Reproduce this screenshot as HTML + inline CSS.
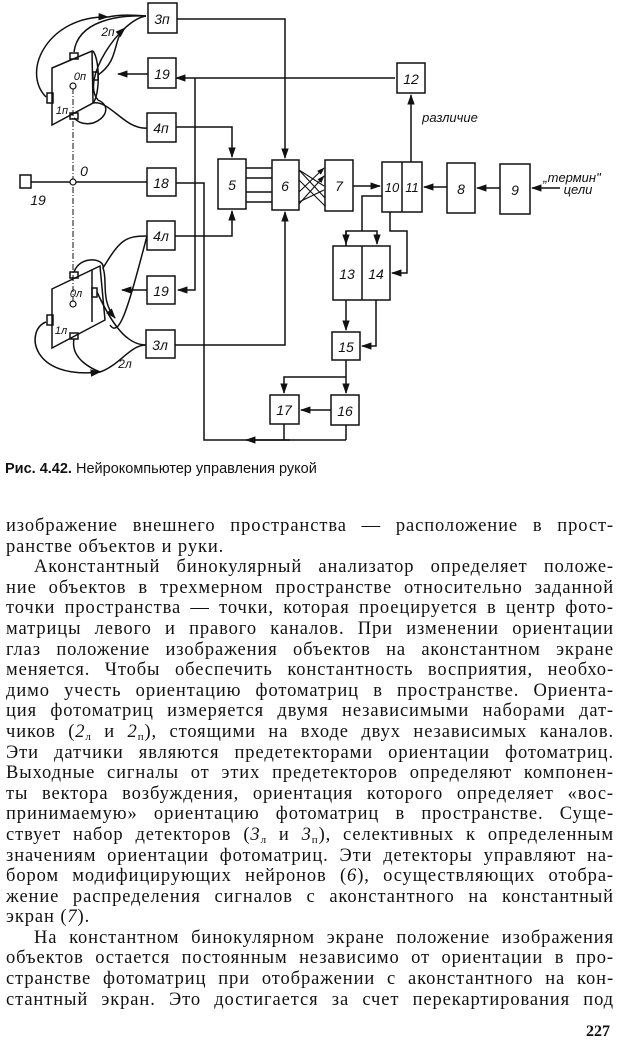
<!DOCTYPE html>
<html><head><meta charset="utf-8"><style>
html,body{margin:0;padding:0;background:#fff;}
body{width:620px;height:1047px;position:relative;overflow:hidden;font-family:"Liberation Serif","DejaVu Serif",serif;color:#111;}
svg{position:absolute;left:0;top:0;}
.t{position:absolute;left:6px;width:608px;font-size:18.5px;line-height:20.6px;letter-spacing:0.9px;}
.t div{text-align:justify;text-align-last:justify;white-space:nowrap;height:20.6px;overflow:visible;}
.t div.l{text-align-last:left;}
.t div.i{padding-left:28px;}
.t sub{font-size:11px;vertical-align:-3px;line-height:0;}
.cap{position:absolute;left:5px;top:461px;font-size:14.5px;font-family:"Liberation Sans",sans-serif;}
.pn{position:absolute;left:586px;top:1023px;font-size:16px;font-weight:bold;}
</style></head><body>
<svg width="620" height="460" viewBox="0 0 620 460">
<defs><marker id="a" viewBox="0 0 10 10" refX="9" refY="5" markerWidth="7" markerHeight="7" orient="auto-start-reverse"><path d="M0,1.5 L10,5 L0,8.5 z" fill="#111"/></marker></defs>
<g fill="none" stroke="#111" stroke-width="1.5">
<rect x="148" y="3" width="29" height="30"/>
<rect x="148" y="58" width="28" height="30"/>
<rect x="147" y="113" width="29" height="29"/>
<rect x="147" y="168" width="29" height="28"/>
<rect x="147" y="221" width="28" height="29"/>
<rect x="147" y="276" width="28" height="28"/>
<rect x="146" y="330" width="29" height="28"/>
<rect x="218" y="159" width="28" height="50"/>
<rect x="272" y="160" width="27" height="50"/>
<rect x="325" y="160" width="28" height="51"/>
<rect x="382" y="162" width="40" height="50"/><line x1="402" y1="162" x2="402" y2="212"/>
<rect x="447" y="163" width="28" height="50"/>
<rect x="500" y="164" width="30" height="50"/>
<rect x="397" y="63" width="28" height="30"/>
<rect x="333" y="246" width="57" height="54"/><line x1="362" y1="246" x2="362" y2="300"/>
<rect x="332" y="332" width="28" height="28"/>
<rect x="331" y="395" width="28" height="30"/>
<rect x="270" y="395" width="29" height="29"/>
<rect x="20" y="175" width="11" height="13"/>
<polyline points="177,19 285,19 285,158" marker-end="url(#a)"/>
<polyline points="395,78 176,78" marker-end="url(#a)" />
<line x1="148" y1="74" x2="118" y2="74" marker-end="url(#a)"/>
<polyline points="195,78 195,290 178,290" marker-end="url(#a)"/>
<line x1="147" y1="290" x2="122" y2="290" marker-end="url(#a)"/>
<polyline points="176,127 232,127 232,157" marker-end="url(#a)"/>
<polyline points="175,236 232,236 232,211" marker-end="url(#a)"/>
<polyline points="175,345 285,345 285,212" marker-end="url(#a)"/>
<polyline points="176,183 204,183 204,440 346,440"/>
<line x1="290" y1="440" x2="246" y2="440" marker-end="url(#a)"/>
<line x1="31" y1="182" x2="147" y2="182"/>
<line x1="246" y1="168" x2="272" y2="168"/><line x1="246" y1="178" x2="272" y2="178"/>
<line x1="246" y1="192" x2="272" y2="192"/><line x1="246" y1="202" x2="272" y2="202"/>
<g stroke-width="1.1">
<line x1="299" y1="170" x2="325" y2="198" /><line x1="299" y1="180" x2="325" y2="206" />
<line x1="299" y1="192" x2="324" y2="168" marker-end="url(#a)"/><line x1="299" y1="204" x2="324" y2="176" marker-end="url(#a)"/>
<line x1="299" y1="170" x2="324" y2="186"/><line x1="299" y1="202" x2="324" y2="190"/>
</g>
<line x1="353" y1="186" x2="380" y2="186" marker-end="url(#a)"/>
<line x1="447" y1="187" x2="424" y2="187" marker-end="url(#a)"/>
<line x1="500" y1="188" x2="477" y2="188" marker-end="url(#a)"/>
<line x1="560" y1="188" x2="532" y2="188" marker-end="url(#a)"/>
<line x1="411" y1="162" x2="411" y2="95" marker-end="url(#a)"/>
<polyline points="382,196 362,196 362,231"/>
<polyline points="346,246 346,231 377,231 377,244" marker-end="url(#a)"/>
<line x1="346" y1="231" x2="346" y2="244" marker-end="url(#a)"/>
<polyline points="390,212 390,231 407,231 407,273 392,273" marker-end="url(#a)"/>
<line x1="346" y1="300" x2="346" y2="330" marker-end="url(#a)"/>
<polyline points="376,300 376,346 362,346" marker-end="url(#a)"/>
<line x1="346" y1="360" x2="346" y2="393" marker-end="url(#a)"/>
<polyline points="346,377 284,377 284,393" marker-end="url(#a)"/>
<line x1="331" y1="410" x2="301" y2="410" marker-end="url(#a)"/>
<polyline points="284,424 284,440"/><polyline points="346,425 346,440"/>
<polygon points="52,68 92,51 93,103 52,125"/>
<path d="M93,51 C100,60 100,95 93,103"/>
<rect x="47" y="93" width="6" height="10"/><rect x="70" y="53" width="8" height="6"/><rect x="93" y="72" width="5" height="8"/><rect x="70" y="113" width="8" height="6"/>
<path d="M46,97 C20,70 50,15 108,17" marker-end="url(#a)"/>
<path d="M108,17 C120,14 135,15 146,16"/>
<path d="M74,52 C78,20 120,15 146,16"/>
<path d="M98,75 C120,60 112,40 125,28" marker-end="url(#a)"/>
<path d="M74,118 C90,135 120,110 98,100 C80,80 120,20 146,16"/>
<path d="M93,103 C110,100 125,130 147,128"/>
<polygon points="52,289 100,266 105,320 52,348"/>
<line x1="92" y1="270" x2="92" y2="322"/>
<rect x="47" y="315" width="6" height="10"/><rect x="70" y="272" width="8" height="6"/><rect x="92" y="288" width="5" height="9"/><rect x="70" y="333" width="8" height="6"/>
<path d="M74,272 C80,255 105,258 103,268 C108,280 100,300 115,318" marker-end="url(#a)"/>
<path d="M103,268 C120,240 125,236 147,236"/>
<path d="M97,292 C110,320 125,345 146,345"/>
<path d="M46,322 C25,330 30,380 100,372" marker-end="url(#a)"/>
<path d="M74,339 C70,360 95,370 100,372 C120,365 130,345 146,345"/>
<path d="M110,325 C120,340 130,300 147,236"/>
</g>
<line x1="73" y1="88" x2="73" y2="305" stroke="#111" stroke-width="1" stroke-dasharray="6,2,1,2"/>
<circle cx="73" cy="182" r="3" fill="#fff" stroke="#111" stroke-width="1.2"/>
<circle cx="73" cy="86" r="3" fill="#fff" stroke="#111" stroke-width="1.2"/>
<circle cx="73" cy="304" r="3" fill="#fff" stroke="#111" stroke-width="1.2"/>
<g font-family="Liberation Sans,sans-serif" font-style="italic" font-size="14" fill="#111" text-anchor="middle">
<text x="162" y="24">3п</text><text x="162" y="79">19</text><text x="161" y="133">4п</text><text x="161" y="188">18</text>
<text x="161" y="241">4л</text><text x="161" y="296">19</text><text x="160" y="350">3л</text>
<text x="232" y="190">5</text><text x="285" y="191">6</text><text x="339" y="191">7</text>
<text x="392" y="192" font-size="13">10</text><text x="412" y="192" font-size="13">11</text>
<text x="461" y="194">8</text><text x="515" y="195">9</text><text x="411" y="84">12</text>
<text x="347" y="279">13</text><text x="376" y="279">14</text><text x="346" y="352">15</text>
<text x="345" y="416">16</text><text x="284" y="415">17</text>
<text x="38" y="205">19</text><text x="84" y="176">0</text>
<text x="80" y="80" font-size="11">0п</text><text x="62" y="114" font-size="11">1п</text><text x="108" y="36" font-size="12">2п</text>
<text x="76" y="297" font-size="11">0л</text><text x="61" y="334" font-size="11">1л</text><text x="125" y="368" font-size="12">2л</text>
<text x="450" y="122" font-size="13">различие</text>
<text x="572" y="182" font-size="13">„термин"</text><text x="578" y="194" font-size="13">цели</text>
</g>
</svg>
<div class="cap"><b>Рис. 4.42.</b> Нейрокомпьютер управления рукой</div>
<div class="t" style="top:516px">
<div>изображение внешнего пространства — расположение в прост-</div>
<div class="l">ранстве объектов и руки.</div>
<div class="i">Аконстантный бинокулярный анализатор определяет положе-</div>
<div>ние объектов в трехмерном пространстве относительно заданной</div>
<div>точки пространства — точки, которая проецируется в центр фото-</div>
<div>матрицы левого и правого каналов. При изменении ориентации</div>
<div>глаз положение изображения объектов на аконстантном экране</div>
<div>меняется. Чтобы обеспечить константность восприятия, необхо-</div>
<div>димо учесть ориентацию фотоматриц в пространстве. Ориента-</div>
<div>ция фотоматриц измеряется двумя независимыми наборами дат-</div>
<div>чиков (<i>2</i><sub>л</sub> и <i>2</i><sub>п</sub>), стоящими на входе двух независимых каналов.</div>
<div>Эти датчики являются предетекторами ориентации фотоматриц.</div>
<div>Выходные сигналы от этих предетекторов определяют компонен-</div>
<div>ты вектора возбуждения, ориентация которого определяет «вос-</div>
<div>принимаемую» ориентацию фотоматриц в пространстве. Суще-</div>
<div>ствует набор детекторов (<i>3</i><sub>л</sub> и <i>3</i><sub>п</sub>), селективных к определенным</div>
<div>значениям ориентации фотоматриц. Эти детекторы управляют на-</div>
<div>бором модифицирующих нейронов (<i>6</i>), осуществляющих отобра-</div>
<div>жение распределения сигналов с аконстантного на константный</div>
<div class="l">экран (<i>7</i>).</div>
<div class="i">На константном бинокулярном экране положение изображения</div>
<div>объектов остается постоянным независимо от ориентации в про-</div>
<div>странстве фотоматриц при отображении с аконстантного на кон-</div>
<div>стантный экран. Это достигается за счет перекартирования под</div>
</div>
<div class="pn">227</div>
</body></html>
